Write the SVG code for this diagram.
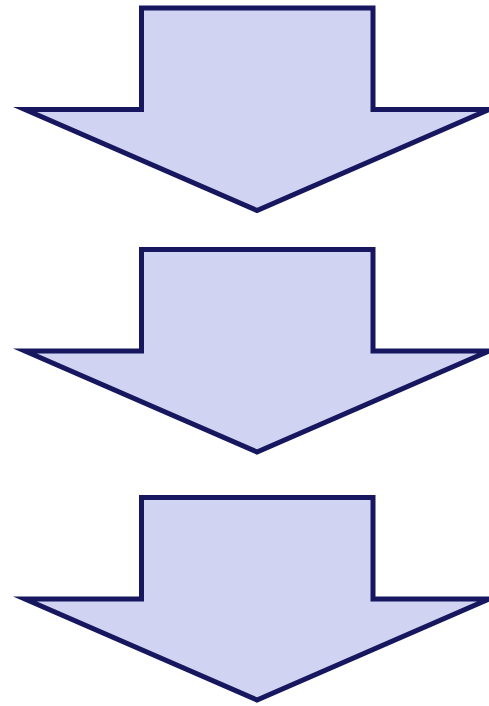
<svg xmlns="http://www.w3.org/2000/svg" width="489" height="706" viewBox="0 0 489 706">
<style>
.arrow{fill:#d1d3f3;stroke:#17175f;stroke-width:5;stroke-linejoin:miter;stroke-miterlimit:10}
</style>
<defs>
<polygon id="shape" points="141.5,0 373,0 373,101.5 489,101.5 257,202.5 25,101.5 141.5,101.5"/>
</defs>
<g id="arrow1"><use href="#shape" class="arrow" x="0" y="8"/></g>
<g id="arrow2"><use href="#shape" class="arrow" x="0" y="249.5"/></g>
<g id="arrow3"><use href="#shape" class="arrow" x="0" y="497.5"/></g>
</svg>
